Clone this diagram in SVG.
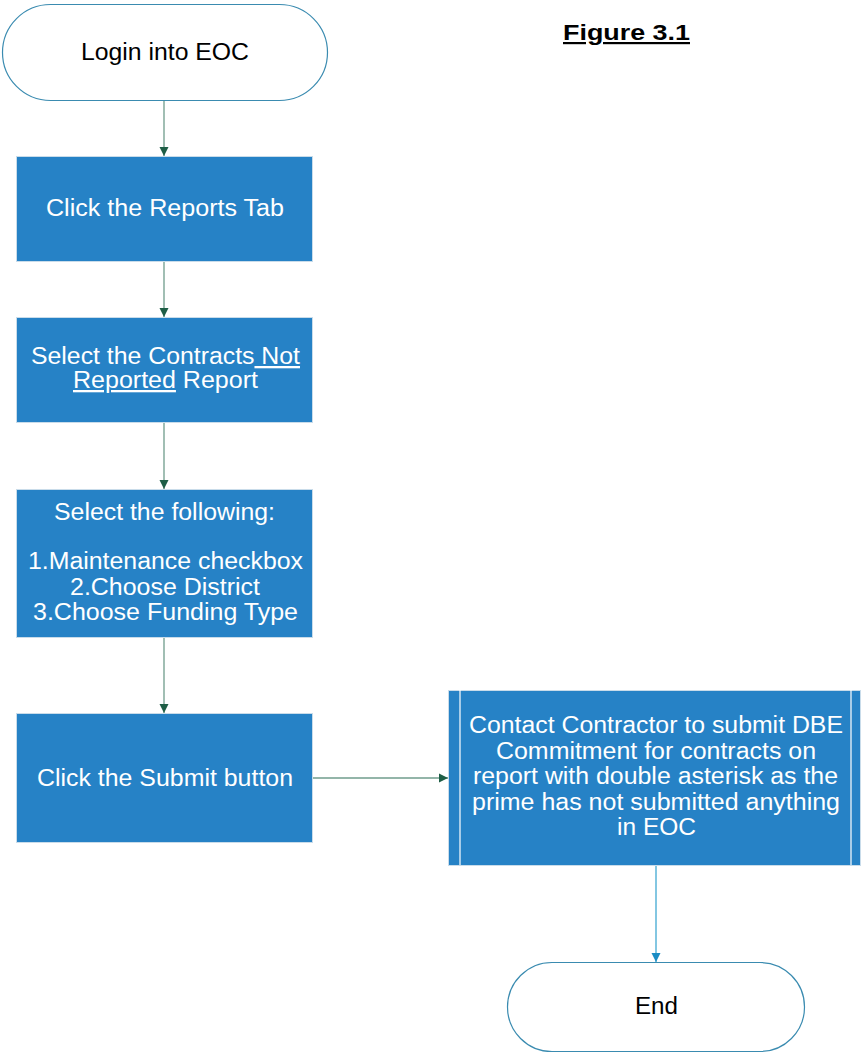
<svg xmlns="http://www.w3.org/2000/svg" width="862" height="1053" viewBox="0 0 862 1053">
<defs>
<style>
.term{fill:#ffffff;stroke:#3a8bb0;stroke-width:1.2}
.box{fill:#2682c6;stroke:#c9dcea;stroke-width:1}
.t{font-family:"Liberation Sans",Arial,sans-serif;font-size:23px}
.w{fill:#ffffff}
.k{fill:#000000}
.con{stroke:#6f9c8c;stroke-width:1.3;fill:none}
.con2{stroke:#5ab4d9;stroke-width:1.5;fill:none}
</style>
<marker id="ag" markerWidth="10" markerHeight="10" refX="9" refY="5" orient="auto" markerUnits="userSpaceOnUse">
<path d="M0,0.5 L9,5 L0,9.5 Z" fill="#1e5e46"/>
</marker>
<marker id="ab" markerWidth="10" markerHeight="10" refX="9" refY="5" orient="auto" markerUnits="userSpaceOnUse">
<path d="M0,0.5 L9,5 L0,9.5 Z" fill="#1a8cc4"/>
</marker>
</defs>
<rect width="862" height="1053" fill="#ffffff"/>

<g id="title">
<text x="563" y="40" style="font-family:'Liberation Sans',Arial,sans-serif;font-size:22px;font-weight:bold" text-decoration="underline" textLength="127" lengthAdjust="spacingAndGlyphs">Figure 3.1</text>
</g>

<g id="connectors">
<line class="con" x1="164" y1="101" x2="164" y2="156" marker-end="url(#ag)"/>
<line class="con" x1="164" y1="261" x2="164" y2="317" marker-end="url(#ag)"/>
<line class="con" x1="164" y1="422" x2="164" y2="489" marker-end="url(#ag)"/>
<line class="con" x1="164" y1="637" x2="164" y2="713" marker-end="url(#ag)"/>
<line class="con" x1="312" y1="778" x2="448" y2="778" marker-end="url(#ag)"/>
<line class="con2" x1="656" y1="865" x2="656" y2="962" marker-end="url(#ab)"/>
</g>

<g id="start">
<rect class="term" x="2.5" y="4.5" width="325" height="96" rx="48" ry="48"/>
<text class="t k" x="81" y="60" textLength="168" lengthAdjust="spacingAndGlyphs">Login into EOC</text>
</g>

<g id="reports">
<rect class="box" x="16.5" y="156.5" width="296" height="105"/>
<text class="t w" x="46" y="216" textLength="238" lengthAdjust="spacingAndGlyphs">Click the Reports Tab</text>
</g>

<g id="select-report">
<rect class="box" x="16.5" y="317.5" width="296" height="105"/>
<text class="t w" x="31" y="364" textLength="269" lengthAdjust="spacingAndGlyphs">Select the Contracts<tspan text-decoration="underline"> Not</tspan></text>
<text class="t w" x="73" y="388" textLength="185" lengthAdjust="spacingAndGlyphs"><tspan text-decoration="underline">Reported</tspan> Report</text>
</g>

<g id="select-following">
<rect class="box" x="16.5" y="489.5" width="296" height="148"/>
<text class="t w" x="54" y="520" textLength="221" lengthAdjust="spacingAndGlyphs">Select the following:</text>
<text class="t w" x="28" y="569" textLength="275" lengthAdjust="spacingAndGlyphs">1.Maintenance checkbox</text>
<text class="t w" x="70" y="595" textLength="190" lengthAdjust="spacingAndGlyphs">2.Choose District</text>
<text class="t w" x="33" y="620" textLength="265" lengthAdjust="spacingAndGlyphs">3.Choose Funding Type</text>
</g>

<g id="submit">
<rect class="box" x="16.5" y="713.5" width="296" height="129"/>
<text class="t w" x="37" y="786" textLength="256" lengthAdjust="spacingAndGlyphs">Click the Submit button</text>
</g>

<g id="contact">
<rect class="box" x="448.5" y="690.5" width="412" height="175"/>
<line x1="460" y1="690" x2="460" y2="865" stroke="#ffffff" stroke-width="1.2"/>
<line x1="851" y1="690" x2="851" y2="865" stroke="#ffffff" stroke-width="1.2"/>
<text class="t w" x="469" y="733" textLength="374" lengthAdjust="spacingAndGlyphs">Contact Contractor to submit DBE</text>
<text class="t w" x="496" y="759" textLength="320" lengthAdjust="spacingAndGlyphs">Commitment for contracts on</text>
<text class="t w" x="473" y="784" textLength="365" lengthAdjust="spacingAndGlyphs">report with double asterisk as the</text>
<text class="t w" x="472" y="810" textLength="368" lengthAdjust="spacingAndGlyphs">prime has not submitted anything</text>
<text class="t w" x="617" y="835" textLength="79" lengthAdjust="spacingAndGlyphs">in EOC</text>
</g>

<g id="end">
<rect class="term" x="507.5" y="962.5" width="297" height="89" rx="44.5" ry="44.5"/>
<text class="t k" x="635" y="1014" textLength="43" lengthAdjust="spacingAndGlyphs">End</text>
</g>
</svg>
